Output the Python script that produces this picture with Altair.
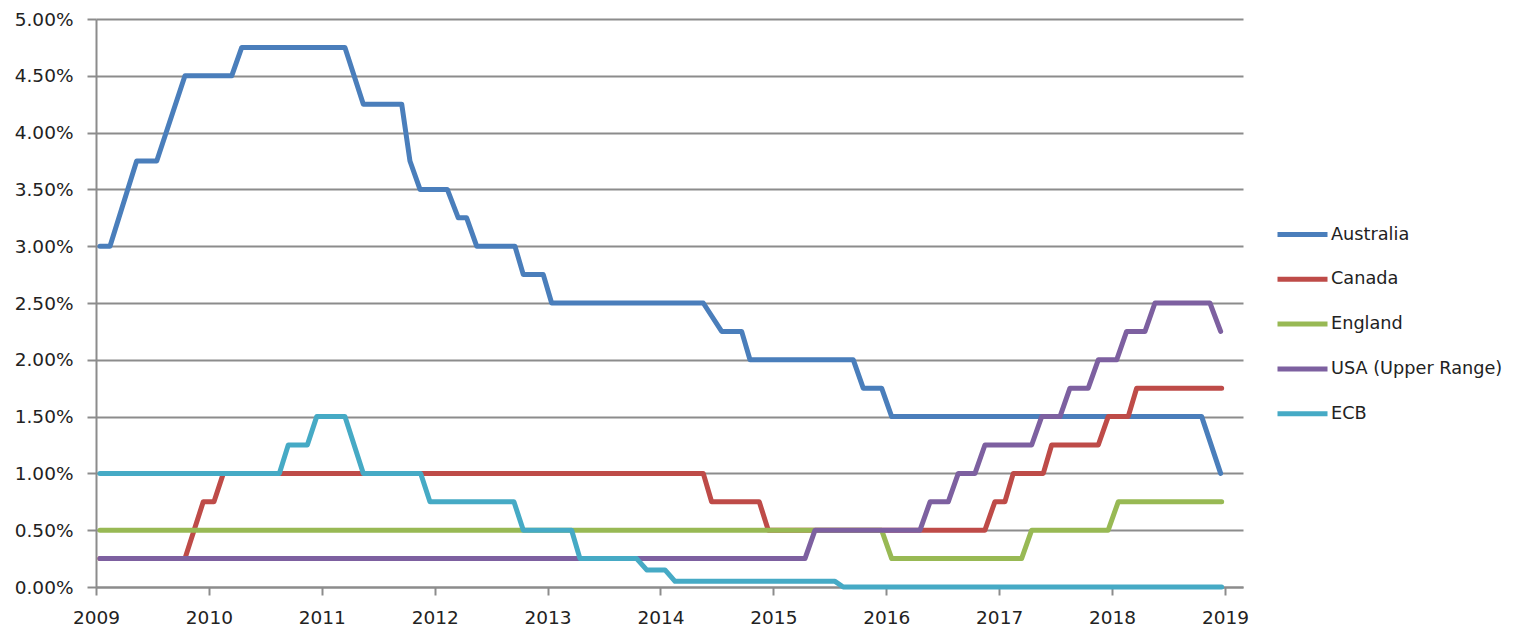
import altair as alt
import pandas as pd

series_names = ["Australia", "Canada", "England", "USA (Upper Range)", "ECB"]
series_colors = ["#4A7EBB", "#BE4B48", "#98B954", "#7D60A0", "#46AAC5"]

au_x = [2009.035, 2009.124, 2009.360, 2009.538, 2009.788, 2010.202, 2010.291, 2011.205, 2011.368, 2011.708,
        2011.781, 2011.870, 2012.112, 2012.209, 2012.283, 2012.372, 2012.711, 2012.785, 2012.962, 2013.036,
        2014.379, 2014.542, 2014.719, 2014.793, 2015.708, 2015.796, 2015.959, 2016.048, 2018.794, 2018.962]
au_y = [3.00, 3.00, 3.75, 3.75, 4.50, 4.50, 4.75, 4.75, 4.25, 4.25,
        3.75, 3.50, 3.50, 3.25, 3.25, 3.00, 3.00, 2.75, 2.75, 2.50,
        2.50, 2.25, 2.25, 2.00, 2.00, 1.75, 1.75, 1.50, 1.50, 1.00]

ca_x = [2009.035, 2009.788, 2009.950, 2010.045, 2010.128, 2014.379, 2014.453, 2014.875, 2014.955, 2016.874,
        2016.962, 2017.051, 2017.125, 2017.391, 2017.465, 2017.878, 2017.966, 2018.143, 2018.218, 2018.971]
ca_y = [0.25, 0.25, 0.75, 0.75, 1.00, 1.00, 0.75, 0.75, 0.50, 0.50,
        0.75, 0.75, 1.00, 1.00, 1.25, 1.25, 1.50, 1.50, 1.75, 1.75]

en_x = [2009.035, 2015.959, 2016.048, 2017.199, 2017.288, 2017.966, 2018.055, 2018.971]
en_y = [0.50, 0.50, 0.25, 0.25, 0.50, 0.50, 0.75, 0.75]

us_x = [2009.035, 2015.280, 2015.369, 2016.299, 2016.388, 2016.549, 2016.638, 2016.786, 2016.874, 2017.288,
        2017.377, 2017.539, 2017.627, 2017.789, 2017.878, 2018.041, 2018.129, 2018.292, 2018.380, 2018.867,
        2018.962]
us_y = [0.25, 0.25, 0.50, 0.50, 0.75, 0.75, 1.00, 1.00, 1.25, 1.25,
        1.50, 1.50, 1.75, 1.75, 2.00, 2.00, 2.25, 2.25, 2.50, 2.50,
        2.25]

ecb_x = [2009.035, 2010.624, 2010.703, 2010.872, 2010.955, 2011.205, 2011.368, 2011.876, 2011.958, 2012.702,
         2012.785, 2013.213, 2013.287, 2013.789, 2013.878, 2014.040, 2014.129, 2015.546, 2015.619, 2018.971]
ecb_y = [1.00, 1.00, 1.25, 1.25, 1.50, 1.50, 1.00, 1.00, 0.75, 0.75,
         0.50, 0.50, 0.25, 0.25, 0.15, 0.15, 0.05, 0.05, 0.00, 0.00]

year_ticks = list(range(2009, 2020))
rate_ticks = [0, 0.5, 1.0, 1.5, 2.0, 2.5, 3.0, 3.5, 4.0, 4.5, 5.0]

all_x = [au_x, ca_x, en_x, us_x, ecb_x]
all_y = [au_y, ca_y, en_y, us_y, ecb_y]
frames = []
for name, xs, ys in zip(series_names, all_x, all_y):
    frames.append(pd.DataFrame({"year": xs, "rate": ys, "series": name}))
df = pd.concat(frames, ignore_index=True)

FONT = "DejaVu Sans"
GRID = "#8C8C8C"

x_enc = alt.X("year:Q",
              scale=alt.Scale(domain=[2009, 2019.16], nice=False, zero=False),
              axis=alt.Axis(values=year_ticks, format="d", title=None, grid=False,
                            domainColor=GRID, domainWidth=2, tickColor=GRID, tickWidth=2,
                            tickSize=8, labelPadding=13, labelFont=FONT, labelFontSize=18.5,
                            labelColor="#222222", labelFlush=False))
y_enc = alt.Y("rate:Q",
              scale=alt.Scale(domain=[0, 5], nice=False),
              axis=alt.Axis(values=rate_ticks, title=None, grid=True, gridColor=GRID, gridWidth=2,
                            labelExpr="format(datum.value, '.2f') + '%'",
                            domainColor=GRID, domainWidth=2, tickColor=GRID, tickWidth=2,
                            tickSize=9, labelPadding=14, labelFont=FONT, labelFontSize=18.5,
                            labelColor="#222222"))
color_enc = alt.Color("series:N",
                      scale=alt.Scale(domain=series_names, range=series_colors),
                      legend=alt.Legend(orient="none", legendX=1179, legendY=203, title=None,
                                        symbolType="M-1,0H4", symbolSize=400, symbolStrokeWidth=5,
                                        labelOffset=31, rowPadding=21.8, padding=0, labelLimit=400,
                                        labelFont=FONT, labelFontSize=17.7, labelColor="#222222"))

layers = []
for name in series_names:
    layers.append(
        alt.Chart(df).transform_filter(alt.datum.series == name)
        .mark_line(strokeWidth=5, strokeCap="round", strokeJoin="round")
        .encode(x=x_enc, y=y_enc, color=color_enc)
    )

chart = alt.layer(*layers).properties(
    width=1147, height=568,
    autosize=alt.AutoSizeParams(type="none"),
    padding={"left": 88, "top": 11, "right": 276, "bottom": 40},
).configure(background="white").configure_view(stroke=None)

chart.save("out.html", embed_options={"renderer": "svg", "actions": False})
